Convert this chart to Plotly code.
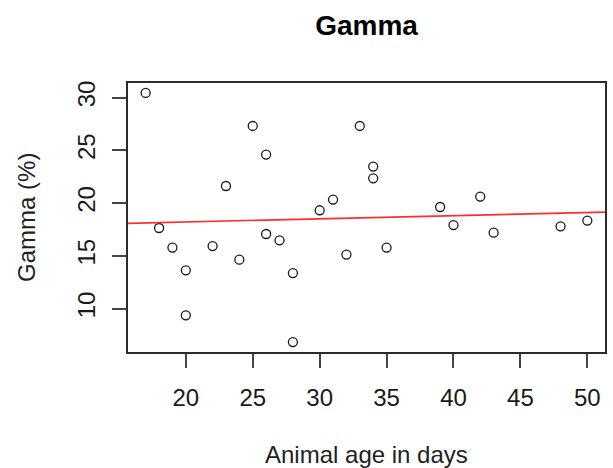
import numpy as np
import plotly.graph_objects as go

# Animal age (days) and gamma fraction (%)
age_days = [17, 18, 19, 20, 20, 22, 23, 24, 25, 26, 26, 27, 28, 28, 30,
            31, 32, 33, 34, 34, 35, 39, 40, 42, 43, 48, 50]
gamma_pct = [30.44, 17.64, 15.78, 13.63, 9.36, 15.93, 21.62, 14.64, 27.31,
             24.60, 17.07, 16.47, 13.37, 6.83, 19.32, 20.33, 15.12, 27.31,
             23.46, 22.35, 15.78, 19.63, 17.92, 20.62, 17.20, 17.80, 18.34]

x_ticks = [20, 25, 30, 35, 40, 45, 50]
y_ticks = [10, 15, 20, 25, 30]

x = np.array(age_days, dtype=float)
y = np.array(gamma_pct, dtype=float)

# base-R style axis ranges: data extent padded by 4% on each side
def padded(v):
    span = v.max() - v.min()
    return [v.min() - 0.04 * span, v.max() + 0.04 * span]

xr = padded(x)
yr = padded(y)

# least-squares fit, drawn across the whole plotting region
slope, intercept = np.polyfit(x, y, 1)
fit_x = np.array(xr)
fit_y = intercept + slope * fit_x

FONT = "Liberation Sans, Arial, sans-serif"
AX = "#2b2b2b"

fig = go.Figure()
fig.add_trace(go.Scatter(
    x=x, y=y, mode="markers",
    marker=dict(symbol="circle-open", size=9, color="#1a1a1a",
                line=dict(width=1.3, color="#1a1a1a")),
    showlegend=False, hoverinfo="x+y"))
fig.add_trace(go.Scatter(
    x=fit_x, y=fit_y, mode="lines",
    line=dict(color="rgb(255,45,45)", width=1.6),
    showlegend=False, hoverinfo="skip"))

axis_common = dict(
    showgrid=False, zeroline=False, showline=True, mirror=True,
    linecolor=AX, linewidth=1.6, ticks="outside", ticklen=14,
    tickwidth=1.6, tickcolor="#444",
    tickfont=dict(family=FONT, size=24, color="#1a1a1a"),
)

fig.update_xaxes(range=xr, tickmode="array", tickvals=x_ticks,
                 ticktext=[str(t) for t in x_ticks],
                 ticklabelstandoff=9, **axis_common)
fig.update_yaxes(range=yr, tickmode="array", tickvals=y_ticks,
                 ticktext=[str(t) for t in y_ticks], tickangle=-90,
                 ticklabelstandoff=8, **axis_common)

fig.update_layout(
    width=613, height=468,
    margin=dict(l=128, r=6, t=83, b=116, pad=0),
    paper_bgcolor="white", plot_bgcolor="white",
    font=dict(family=FONT, color="#1a1a1a"),
    title=dict(text="<b>Gamma</b>", x=0.5, xref="paper", xanchor="center",
               y=1 - 25 / 468, yref="container", yanchor="middle",
               font=dict(family=FONT, size=28, color="#000")),
    annotations=[
        dict(text="Animal age in days", xref="paper", yref="paper",
             x=0.5, y=-(454 - 352) / 269, xanchor="center", yanchor="middle",
             showarrow=False, font=dict(family=FONT, size=24, color="#222")),
        dict(text="Gamma (%)", xref="paper", yref="paper",
             x=-(128 - 26) / 479, y=0.5, xanchor="center", yanchor="middle",
             textangle=-90, showarrow=False,
             font=dict(family=FONT, size=24, color="#222")),
    ],
)

fig.write_html("out.html")
